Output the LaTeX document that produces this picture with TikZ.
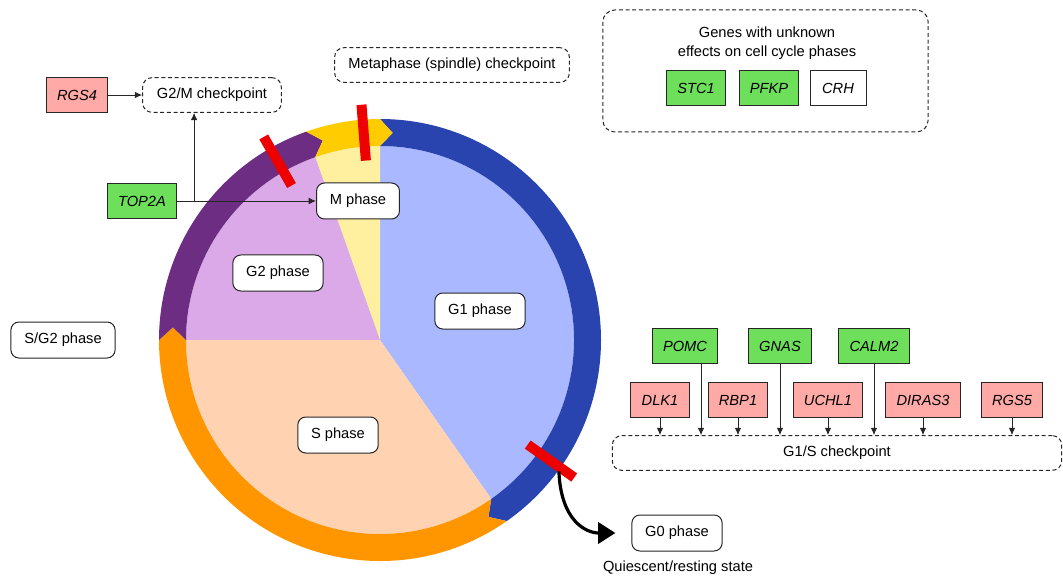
\documentclass[tikz,border=0pt]{standalone}
\usepackage{fontspec}
\setmainfont{Liberation Sans}
\usetikzlibrary{positioning,arrows.meta,calc}
\definecolor{ink}{HTML}{262626}
\definecolor{gonelight}{HTML}{A9B8FF}
\definecolor{gonering}{HTML}{2A44AF}
\definecolor{mlight}{HTML}{FFF0A0}
\definecolor{mring}{HTML}{FFCC00}
\definecolor{gtwolight}{HTML}{DBA9E7}
\definecolor{gtworing}{HTML}{6C2D82}
\definecolor{slight}{HTML}{FFD3B1}
\definecolor{sring}{HTML}{FF9600}
\definecolor{barred}{HTML}{EE0000}
\definecolor{genegreen}{HTML}{6DDF5B}
\definecolor{genepink}{HTML}{FFAAA6}
\newcommand{\ringpart}[3]{% #1 colour, #2 start angle, #3 end angle (clockwise)
  \fill[#1] (#2:221) arc[start angle=#2, end angle=#3, radius=221]
    -- ({#3-3.5}:207.5) -- (#3:194) arc[start angle=#3, end angle=#2, radius=194]
    -- ({#2-3.5}:207.5) -- cycle;}

\begin{document}
\begin{tikzpicture}[x=0.75pt, y=-0.75pt,
    every node/.style={font=\fontsize{11}{14.3}\selectfont, align=center},
    phase/.style={draw=ink, fill=white, rounded corners=6pt, line width=0.75pt,
                  minimum height=27pt, inner xsep=10pt},
    chk/.style={draw=ink, dash pattern=on 3pt off 2pt, rounded corners=7pt, line width=0.75pt,
                minimum height=26pt, inner xsep=10pt},
    gene/.style={draw=ink, line width=0.75pt, minimum height=26pt, minimum width=42pt,
                 inner xsep=8pt, font=\fontsize{11}{14.3}\selectfont\itshape},
    up/.style={gene, fill=genegreen},
    down/.style={gene, fill=genepink},
    link/.style={-{Latex[length=5.5pt,width=5pt]}, line width=0.7pt, color=ink},
    bar/.style={line width=7.5pt, color=barred},
    g0arrow/.style={-{Triangle[length=13pt,width=16pt]}, line width=2.4pt, shorten >=12pt}
  ]
  \useasboundingbox (0,0) rectangle (1063,577);

  % ---- the cycle wheel -------------------------------------------------
  \begin{scope}[shift={(380,340)}, yscale=-1]
    \fill[gonelight] (0,0) -- (-55:194) arc[start angle=-55, end angle=90, radius=194] -- cycle;
    \fill[mlight] (0,0) -- (90:194) arc[start angle=90, end angle=109.5, radius=194] -- cycle;
    \fill[gtwolight] (0,0) -- (109.5:194) arc[start angle=109.5, end angle=180, radius=194] -- cycle;
    \fill[slight] (0,0) -- (180:194) arc[start angle=180, end angle=305, radius=194] -- cycle;

    \ringpart{gonering}{90}{-55}
    \ringpart{sring}{305}{180}
    \ringpart{gtworing}{180}{109.5}
    \ringpart{mring}{109.5}{90}

    % checkpoints
    \draw[bar] (119.8:178) -- (119.8:234);
    \draw[bar] (94.5:180) -- (94.5:236);
    \draw[bar] (-35.3:181) -- (-35.3:238);
    \coordinate (g0start) at (-36.3:222);
  \end{scope}

  % ---- phases ------------------------------------------------------------
  \node[phase] (mph)  at (358,201) {M phase};
  \node[phase] (g2ph) at (278,273) {G2 phase};
  \node[phase] (g1ph) at (480,311) {G1 phase};
  \node[phase] (sph)  at (338,435) {S phase};
  \node[phase] (sg2)  at (63,340)  {S/G2 phase};
  \node[phase] (g0ph) at (677,533) {G0 phase};
  \node (rest) at (678,568) {Quiescent/resting state};

  % ---- checkpoints ---------------------------------------------------------
  \node[chk, minimum width=104pt] (g2m)  at (212,95)  {G2/M checkpoint};
  \node[chk, minimum width=176pt] (meta) at (452,65)  {Metaphase (spindle) checkpoint};
  \node[chk, minimum width=337pt] (g1s)  at (837,453) {G1/S checkpoint};

  % ---- genes -----------------------------------------------------------------
  \node[down] (rgs4)  at (77,95)   {RGS4};
  \node[up]   (top2a) at (142,201) {TOP2A};

  \node[up]   (pomc)   at (685,346)  {POMC};
  \node[up]   (gnas)   at (780,346)  {GNAS};
  \node[up]   (calm2)  at (874,346)  {CALM2};
  \node[down] (dlk1)   at (660,400)  {DLK1};
  \node[down] (rbp1)   at (738,400)  {RBP1};
  \node[down] (uchl1)  at (828,400)  {UCHL1};
  \node[down] (diras3) at (923,400)  {DIRAS3};
  \node[down] (rgs5)   at (1012,400) {RGS5};

  \node[chk, minimum width=244pt, minimum height=91.5pt, rounded corners=9pt] (unk) at (765.5,71) {};
  \node (unktxt) at (767,43) {Genes with unknown\\effects on cell cycle phases};
  \node[up]   (stc1) at (696,88) {STC1};
  \node[up]   (pfkp) at (769,88) {PFKP};
  \node[gene, fill=white] (crh) at (838,88) {CRH};

  % ---- connectors ---------------------------------------------------------
  \draw[link] (rgs4) -- (g2m);
  \draw[link] (top2a) -- (mph);
  \coordinate (split) at ($(top2a.east)+(17,0)$);
  \draw[link] (split) -- (split |- g2m.south);

  \foreach \g in {dlk1,rbp1,gnas,uchl1,calm2,diras3,rgs5}
    \draw[link] (\g.south) -- (\g.south |- g1s.north);
  \draw[link] ([xshift=12pt]pomc.south) -- ([xshift=12pt]pomc.south |- g1s.north);

  \draw[g0arrow] (g0start) .. controls +(2,50) and +(-45,0) .. (g0ph.west);

\end{tikzpicture}
\end{document}
